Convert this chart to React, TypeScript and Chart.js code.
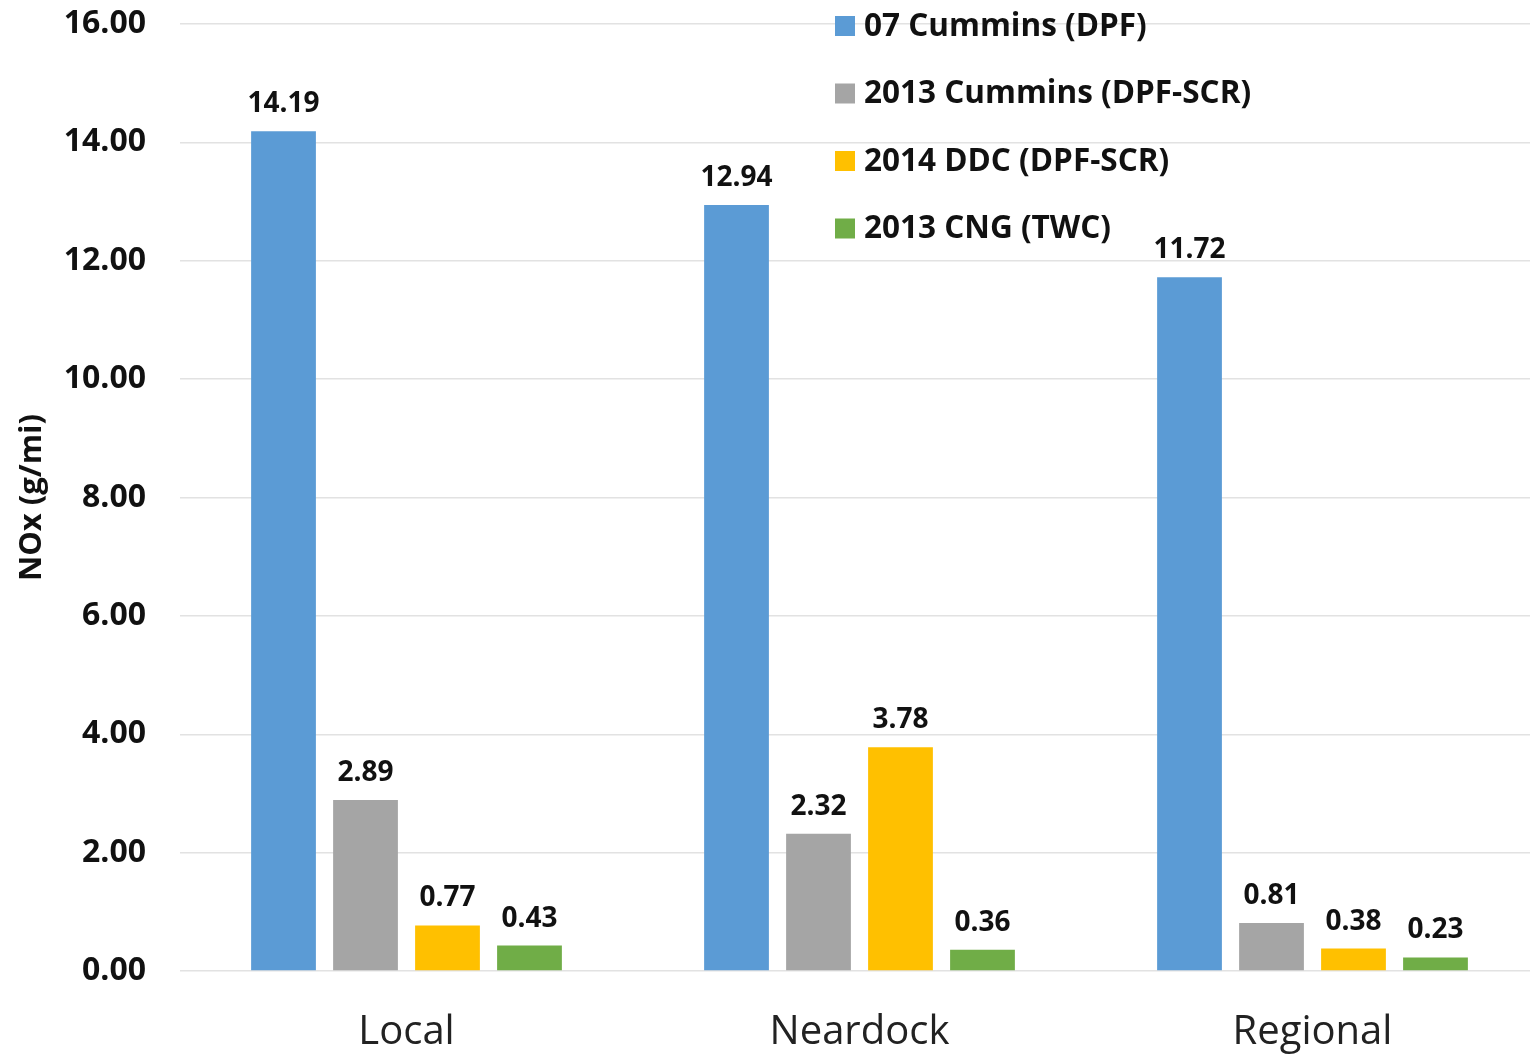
import React, { useEffect, useRef } from "react";
import { Chart, registerables } from "chart.js";

Chart.register(...registerables);

const categories = ["Local", "Neardock", "Regional"];
const seriesNames = [
  "07 Cummins (DPF)",
  "2013 Cummins (DPF-SCR)",
  "2014 DDC (DPF-SCR)",
  "2013 CNG (TWC)",
];
const cummins07 = [14.19, 12.94, 11.72];
const cummins2013 = [2.89, 2.32, 0.81];
const ddc2014 = [0.77, 3.78, 0.38];
const cng2013 = [0.43, 0.36, 0.23];
const seriesColors = ["#5B9BD5", "#A5A5A5", "#FFC000", "#70AD47"];
const yTitle = "NOx (g/mi)";
const yMin = 0;
const yMax = 16;
const yStep = 2;

const FONT = "'Open Sans', 'DejaVu Sans', sans-serif";

const valueLabelPlugin = {
  id: "valueLabels",
  afterDatasetsDraw(chart: any) {
    const ctx = chart.ctx;
    ctx.save();
    ctx.font = `bold 28px ${FONT}`;
    ctx.fillStyle = "#111";
    ctx.textAlign = "center";
    ctx.textBaseline = "alphabetic";
    chart.data.datasets.forEach((ds: any, di: number) => {
      const meta = chart.getDatasetMeta(di);
      meta.data.forEach((bar: any, i: number) => {
        const v = ds.data[i];
        ctx.fillText(v.toFixed(2), bar.x, bar.y - 19);
      });
    });
    ctx.restore();
  },
};

const legendPlugin = {
  id: "customLegend",
  afterDraw(chart: any) {
    const ctx = chart.ctx;
    ctx.save();
    ctx.font = `bold 31.5px ${FONT}`;
    ctx.textBaseline = "middle";
    ctx.textAlign = "left";
    const x0 = 835;
    const y0 = 26;
    const dy = 67.5;
    chart.data.datasets.forEach((ds: any, i: number) => {
      const y = y0 + i * dy;
      ctx.fillStyle = ds.backgroundColor;
      ctx.fillRect(x0, y - 10, 20, 20);
      ctx.fillStyle = "#111";
      ctx.fillText(ds.label, x0 + 29, y + 1);
    });
    ctx.restore();
  },
};

export default function App() {
  const ref = useRef<HTMLCanvasElement>(null);
  useEffect(() => {
    if (!ref.current) return;
    const values = [cummins07, cummins2013, ddc2014, cng2013];
    const chart = new Chart(ref.current, {
      type: "bar",
      data: {
        labels: categories,
        datasets: seriesNames.map((name, i) => ({
          label: name,
          data: values[i],
          backgroundColor: seriesColors[i],
          categoryPercentage: 0.724,
          barPercentage: 0.79,
        })),
      },
      options: {
        responsive: false,
        animation: false,
        devicePixelRatio: 1,
        layout: { padding: { top: 24, left: 0, right: 0, bottom: 0 } },
        plugins: {
          legend: { display: false },
          tooltip: { enabled: false },
        },
        scales: {
          x: {
            grid: { display: false, drawTicks: false },
            border: { display: false },
            ticks: {
              font: { family: FONT, size: 40 },
              color: "#222",
              padding: 38,
            },
            afterFit(scale: any) {
              scale.height = 83;
              scale.paddingLeft = 0;
              scale.paddingRight = 0;
            },
          },
          y: {
            min: yMin,
            max: yMax,
            grid: { color: "#e2e2e2", lineWidth: 1.5, drawTicks: false },
            border: { display: false },
            ticks: {
              stepSize: yStep,
              font: { family: FONT, size: 32, weight: "bold" },
              color: "#111",
              padding: 34,
              callback: (v: any) => Number(v).toFixed(2),
            },
            title: {
              display: true,
              text: yTitle,
              font: { family: FONT, size: 31, weight: "bold" },
              color: "#111",
              padding: { top: 14, bottom: 0 },
            },
            afterFit(scale: any) {
              scale.width = 180;
              scale.paddingTop = 0;
              scale.paddingBottom = 0;
            },
          },
        },
      },
      plugins: [valueLabelPlugin, legendPlugin],
    });
    return () => chart.destroy();
  }, []);
  return (
    <div
      style={{
        position: "fixed",
        left: 0,
        top: 0,
        width: 1530,
        height: 1054,
        overflow: "hidden",
        background: "#fff",
      }}
    >
      <canvas ref={ref} width={1539} height={1054} style={{ display: "block" }} />
    </div>
  );
}
